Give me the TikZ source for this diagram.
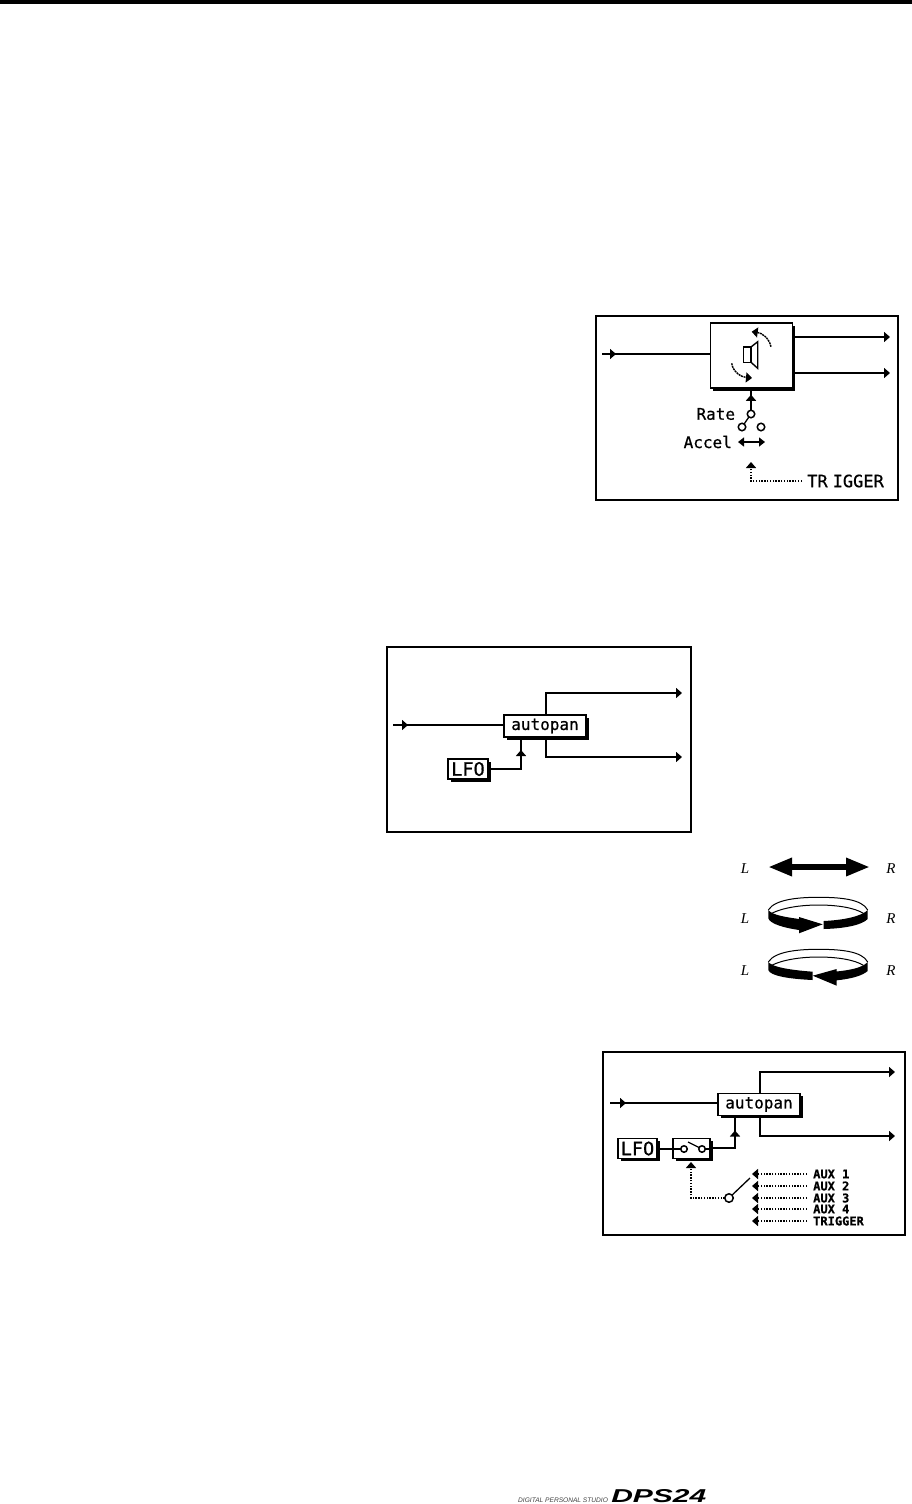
\documentclass[tikz,border=0pt]{standalone}
\usepackage{fontspec}
\usepackage{graphicx}
\setmainfont{Liberation Sans}
\newfontfamily\pixfont{DejaVu Sans Mono}[RawFeature={embolden=0.7}]
\newfontfamily\serifit{Liberation Serif}[ItalicFont=* Italic]
\usetikzlibrary{arrows.meta,positioning,shadows,decorations.markings}
\tikzset{
  frame_box/.style={draw=black,line width=1.7pt,fill=white,anchor=north west,inner sep=0pt,outer sep=0pt},
  drop_box/.style={draw=black,line width=1.5pt,fill=white,inner sep=0pt,outer sep=0pt,
    drop shadow={shadow xshift=2.5pt,shadow yshift=-2.5pt,fill=black,opacity=1}},
  pan_box/.style={drop_box,minimum width=82pt,minimum height=22pt,font=\pixfont\fontsize{16}{16}\selectfont},
  lfo_box/.style={drop_box,minimum width=40pt,minimum height=20pt,font=\pixfont\fontsize{18.5}{18.5}\selectfont},
  sw_dot/.style={circle,draw=black,line width=1.5pt,fill=white,minimum size=7.5pt,inner sep=0pt,outer sep=0pt},
  txt_lab/.style={inner sep=0pt,font=\pixfont\fontsize{16}{16}\selectfont},
  aux_lab/.style={inner sep=0pt,anchor=west,font=\pixfont\bfseries\fontsize{12}{12}\selectfont},
  lr_lab/.style={inner sep=0pt,font=\serifit\itshape\fontsize{15}{15}\selectfont},
  wire/.style={draw=black,line width=1.6pt},
  arr/.style={wire,-{Triangle[length=6pt,width=10pt]}},
  mid_tip/.style={wire,postaction={decorate},decoration={markings,
    mark=at position #1 with {\arrow{Triangle[length=6pt,width=10pt]}}}},
  dot_arr/.style={draw=black,line width=1.4pt,dash pattern=on 1.4pt off 1.4pt,-{Triangle[length=6pt,width=10pt]}},
  pan_arr/.style={draw=black,line width=6.5pt,{Triangle[length=24pt,width=17pt]}-{Triangle[length=24pt,width=17pt]}},
}
\begin{document}
\begin{tikzpicture}[x=1pt,y=-1pt]
  \useasboundingbox (0,0) rectangle (912,1504);
  \fill[black] (0,0) rectangle (912,4);

  % speaker block
  \node[frame_box,minimum width=302pt,minimum height=184pt] (frame_a) at (596,316) {};
  \node[drop_box,minimum width=82pt,minimum height=65pt] (spk) at (751.5,355.5) {};
  \coordinate (in_a) at (602,354);
  \coordinate (out_a1) at (890,337);
  \coordinate (out_a2) at (890,373);
  \draw[mid_tip=14pt] (in_a) -- (in_a -| spk.west);
  \draw[arr] (spk.east |- out_a1) -- (out_a1);
  \draw[arr] (spk.east |- out_a2) -- (out_a2);
  \draw[wire,line width=1.4pt,fill=white] (743.3,347) rectangle (751,362.3);
  \draw[wire,line width=1.4pt] (751,347) -- (757.7,341.7) -- (757.7,368.3) -- (751,362.3);
  \draw[dot_arr,dash pattern=on 2pt off 0.7pt] (771,346.7) .. controls (769,338) and (762,333) .. (751.7,331.7);
  \draw[dot_arr,dash pattern=on 2pt off 0.7pt] (731.7,363.3) .. controls (733,372) and (741,377) .. (752,378);

  \node[sw_dot] (sw_c) at (751,414) {};
  \node[sw_dot] (sw_l) at (742,427) {};
  \node[sw_dot] (sw_r) at (761,427) {};
  \draw[mid_tip=15.5pt] (sw_c) -- (sw_c |- spk.south);
  \draw[wire,line width=1.3pt] (sw_c) -- (sw_l);
  \node[txt_lab,left=12pt of sw_c] (rate) {Rate};
  \node[txt_lab,anchor=east] (accel) at (732,442) {Accel};
  \coordinate (acc_l) at (738,442);
  \coordinate (acc_r) at (765,442);
  \draw[wire,line width=1.4pt,{Triangle[length=6pt,width=9pt]}-{Triangle[length=6pt,width=9pt]}] (acc_l) -- (acc_r);
  \node[txt_lab,anchor=west,font=\pixfont\fontsize{17}{17}\selectfont] (trig_a) at (807,481) {TR\kern5ptIGGER};
  \coordinate (trig_c) at (751,481);
  \coordinate (trig_t) at (751,462);
  \draw[dot_arr] ([xshift=-5pt]trig_a.west) -- (trig_c) -- (trig_t);

  % autopan block
  \node[frame_box,minimum width=304pt,minimum height=185pt] (frame_b) at (387,647) {};
  \node[pan_box] (pan_b) at (545,726) {autopan};
  \node[lfo_box,below left=22pt and 16pt of pan_b] (lfo_b) {LFO};
  \coordinate (in_b) at (393,725);
  \coordinate (out_b1) at (682,693);
  \coordinate (out_b2) at (682,757);
  \coordinate (bend_b) at (521,769);
  \draw[mid_tip=15pt] (in_b) -- (in_b -| pan_b.west);
  \draw[arr] (pan_b.north) ++(1,0) |- (out_b1);
  \draw[arr] (pan_b.south) ++(1,0) |- (out_b2);
  \draw[mid_tip=-13pt] (lfo_b.east |- bend_b) -- (bend_b) -- (bend_b |- pan_b.south);

  % pan direction symbols
  \node[lr_lab] (l_1) at (745,869) {L};
  \node[lr_lab] (r_1) at (891,869) {R};
  \node[lr_lab] (l_2) at (745,919) {L};
  \node[lr_lab] (r_2) at (891,919) {R};
  \node[lr_lab] (l_3) at (745,971) {L};
  \node[lr_lab] (r_3) at (891,971) {R};
  \coordinate (pan_l) at (768,867);
  \coordinate (pan_r) at (870,867);
  \draw[pan_arr] (pan_l) -- (pan_r);

  \draw[wire,line width=1pt] (768.3,910) .. controls (775,899) and (800,897.3) .. (818,897.3) .. controls (840,897.3) and (862,899) .. (867.7,910);
  \draw[wire,line width=1pt] (771.7,913.3) .. controls (782,908) and (800,905) .. (818.3,905) .. controls (838,905) and (855,908) .. (863.3,913.3);
  \fill[black] (768.3,910) .. controls (772,915) and (785,917) .. (799,919) -- (799,917) -- (822.7,924.3) -- (799,933.3) -- (799,930) .. controls (785,928) and (770,924) .. (768.3,918.3) -- cycle;
  \fill[black] (823.7,921) .. controls (845,920) and (862,916) .. (867.7,910) -- (867.7,919) .. controls (862,925) and (845,928.5) .. (823.7,929) -- cycle;

  \draw[wire,line width=1pt] (768.3,962) .. controls (775,951) and (800,949.3) .. (818,949.3) .. controls (840,949.3) and (862,951) .. (867.7,962);
  \draw[wire,line width=1pt] (771.7,965.3) .. controls (782,960) and (800,957) .. (818.3,957) .. controls (838,957) and (855,960) .. (863.3,965.3);
  \fill[black] (768.3,962) .. controls (772,967) and (790,970) .. (812.7,971.7) -- (812.7,980) .. controls (790,979) and (770,976) .. (768.3,970) -- cycle;
  \fill[black] (812.7,975.7) -- (836.7,969) -- (836.7,971.5) .. controls (850,970) and (862,968) .. (867.7,962) -- (867.7,971) .. controls (862,976) and (850,979) .. (836.7,980.3) -- (836.7,985.7) -- cycle;

  % autopan with trigger
  \node[frame_box,minimum width=302pt,minimum height=183pt] (frame_c) at (603,1052) {};
  \node[pan_box] (pan_c) at (759,1104.5) {autopan};
  \node[lfo_box,minimum width=39pt] (lfo_c) at (637.5,1148.5) {LFO};
  \node[drop_box,minimum width=37pt,minimum height=20pt,right=16pt of lfo_c] (gate) {};
  \coordinate (in_c) at (610,1103);
  \coordinate (out_c1) at (895,1072);
  \coordinate (out_c2) at (895,1136);
  \coordinate (bend_c) at (735,1148);
  \draw[mid_tip=16pt] (in_c) -- (in_c -| pan_c.west);
  \draw[arr] (pan_c.north) ++(1,0) |- (out_c1);
  \draw[arr] (pan_c.south) ++(1,0) |- (out_c2);
  \node[sw_dot,minimum size=6.5pt] (gate_l) at (684,1149) {};
  \node[sw_dot,minimum size=6.5pt] (gate_r) at (702,1149) {};
  \draw[wire] (lfo_c.east |- gate_l) -- (gate_l);
  \draw[wire,line width=1.3pt] (688,1142) -- (gate_r);
  \draw[wire] (gate_r) -- (gate.east |- gate_r);
  \draw[mid_tip=-15pt] (gate.east |- bend_c) -- (bend_c) -- (bend_c |- pan_c.south);

  \node[sw_dot,minimum size=8.5pt] (sel) at (729,1198) {};
  \coordinate (sel_t) at (750,1178);
  \coordinate (gate_t) at (691,1162);
  \draw[wire,line width=1.3pt] (sel) -- (sel_t);
  \draw[dot_arr] (sel) -| (gate_t);
  \node[aux_lab] (aux_1) at (813,1174) {AUX 1};
  \node[aux_lab] (aux_2) at (813,1186) {AUX 2};
  \node[aux_lab] (aux_3) at (813,1198) {AUX 3};
  \node[aux_lab] (aux_4) at (813,1209) {AUX 4};
  \node[aux_lab] (aux_5) at (813,1221) {TRIGGER};
  \coordinate (tip_1) at (752,1174);
  \coordinate (tip_2) at (752,1186);
  \coordinate (tip_3) at (752,1198);
  \coordinate (tip_4) at (752,1209);
  \coordinate (tip_5) at (752,1221);
  \draw[dot_arr] ([xshift=-6pt]aux_1.west) -- (tip_1);
  \draw[dot_arr] ([xshift=-6pt]aux_2.west) -- (tip_2);
  \draw[dot_arr] ([xshift=-6pt]aux_3.west) -- (tip_3);
  \draw[dot_arr] ([xshift=-6pt]aux_4.west) -- (tip_4);
  \draw[dot_arr] ([xshift=-6pt]aux_5.west) -- (tip_5);

  % footer
  \node[inner sep=0pt,anchor=west,text=black!75,font=\itshape\fontsize{6.6}{7}\selectfont] (foot) at (518,1500.5) {DIGITAL PERSONAL STUDIO};
  \node[inner sep=0pt,right=3pt of foot.south east,anchor=south west,font=\bfseries\itshape] (logo) {\resizebox{95pt}{13pt}{DPS24}};
\end{tikzpicture}
\end{document}
